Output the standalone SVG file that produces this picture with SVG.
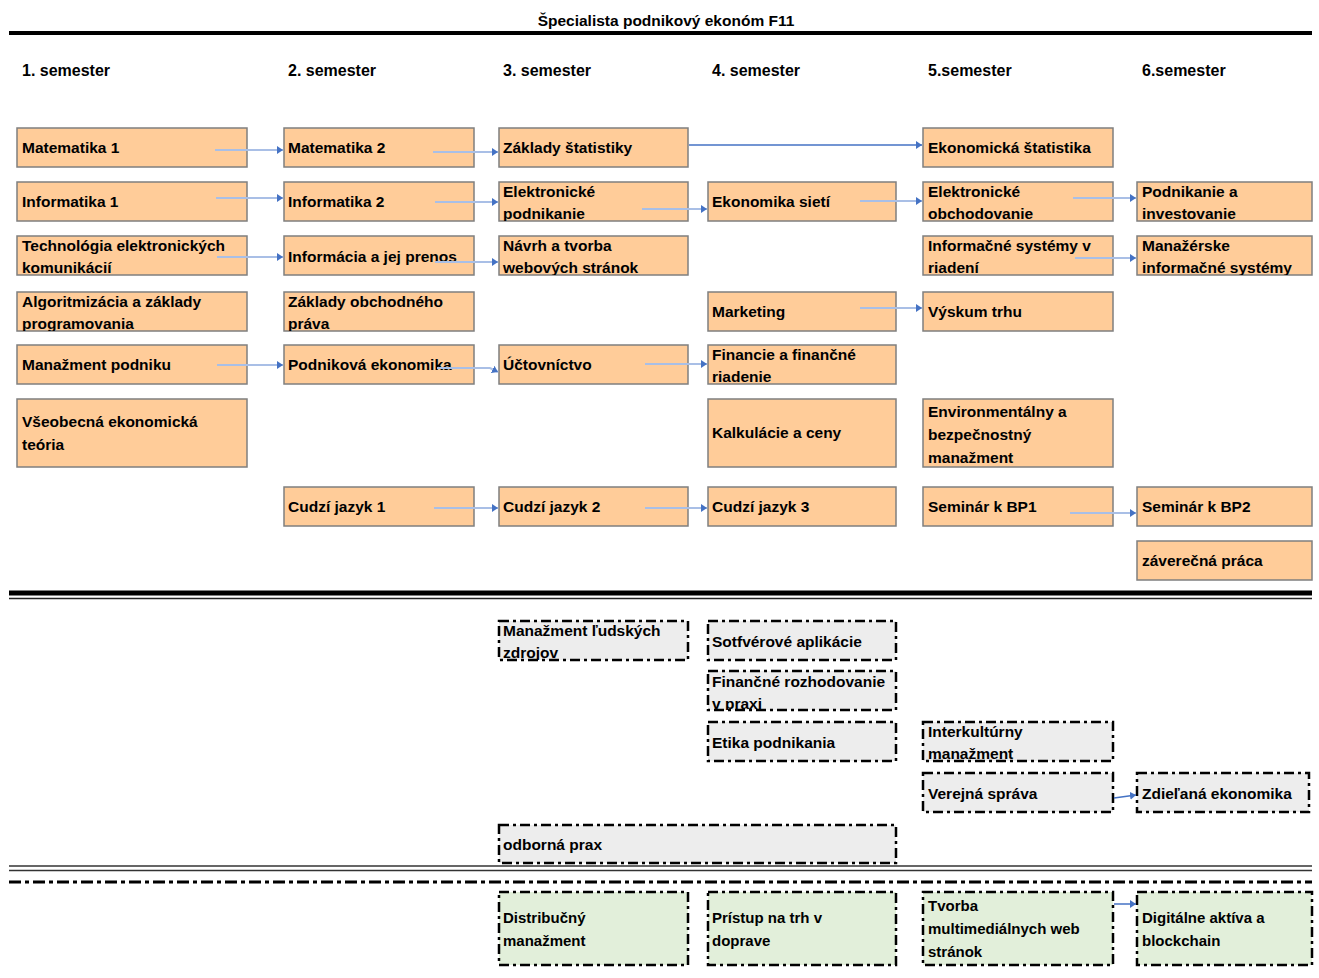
<svg xmlns="http://www.w3.org/2000/svg" width="1319" height="978" viewBox="0 0 1319 978">
<style>
text{font-family:"Liberation Sans",Arial,sans-serif;font-size:15.5px;font-weight:bold;fill:#000}
.title{font-size:15.5px}
.sem{font-size:16px}
.n>rect{fill:#FFCC99;stroke:#7F7F7F;stroke-width:1.5}
.d>rect{fill:#EDEDED;stroke:#000;stroke-width:2.5;stroke-dasharray:10 4 3 4}
.g>rect{fill:#E2EFDA;stroke:#000;stroke-width:2.5;stroke-dasharray:10 4 3 4}
.g text{font-size:15px}
.c line,.c polyline{stroke:#A9BFE6;stroke-width:2;fill:none}
.c .s{stroke:#4472C4;stroke-width:1.5}
</style>
<defs>
<marker id="ah" viewBox="0 0 6 8" refX="6" refY="4" markerWidth="6" markerHeight="8" markerUnits="userSpaceOnUse" orient="auto"><path d="M0,0 L6,4 L0,8 z" fill="#4472C4"/></marker>
</defs>
<rect width="1319" height="978" fill="#fff"/>
<text class="title" x="666" y="26" text-anchor="middle">Špecialista podnikový ekonóm F11</text>
<line x1="9" y1="33" x2="1312" y2="33" stroke="#000" stroke-width="4"/>
<g id="semesters">
<text class="sem" x="22" y="76">1. semester</text>
<text class="sem" x="288" y="76">2. semester</text>
<text class="sem" x="503" y="76">3. semester</text>
<text class="sem" x="712" y="76">4. semester</text>
<text class="sem" x="928" y="76">5.semester</text>
<text class="sem" x="1142" y="76">6.semester</text>
</g>
<g id="separators">
<line x1="9" y1="593" x2="1312" y2="593" stroke="#000" stroke-width="5"/>
<line x1="9" y1="598.5" x2="1312" y2="598.5" stroke="#222" stroke-width="1.5"/>
<line x1="9" y1="866" x2="1312" y2="866" stroke="#333" stroke-width="1.5"/>
<line x1="9" y1="870.5" x2="1312" y2="870.5" stroke="#333" stroke-width="1.5"/>
<line x1="9" y1="882" x2="1312" y2="882" stroke="#000" stroke-width="3" stroke-dasharray="12 4 4 4"/>
</g>

<!-- column 1 -->
<g id="mat1" class="n"><rect x="17" y="128" width="230" height="39"/><svg x="17" y="128" width="230" height="39"><text x="5" y="25">Matematika 1</text></svg></g>
<g id="inf1" class="n"><rect x="17" y="182" width="230" height="39"/><svg x="17" y="182" width="230" height="39"><text x="5" y="25">Informatika 1</text></svg></g>
<g id="tech" class="n"><rect x="17" y="236" width="230" height="39"/><svg x="17" y="236" width="230" height="39"><text x="5" y="15">Technológia elektronických</text><text x="5" y="37">komunikácií</text></svg></g>
<g id="algo" class="n"><rect x="17" y="292" width="230" height="39"/><svg x="17" y="292" width="230" height="39"><text x="5" y="15">Algoritmizácia a základy</text><text x="5" y="37">programovania</text></svg></g>
<g id="manpod" class="n"><rect x="17" y="345" width="230" height="39"/><svg x="17" y="345" width="230" height="39"><text x="5" y="25">Manažment podniku</text></svg></g>
<g id="vseob" class="n"><rect x="17" y="399" width="230" height="68"/><svg x="17" y="399" width="230" height="68"><text x="5" y="28">Všeobecná ekonomická</text><text x="5" y="51">teória</text></svg></g>

<!-- column 2 -->
<g id="mat2" class="n"><rect x="284" y="128" width="190" height="39"/><svg x="284" y="128" width="190" height="39"><text x="4" y="25">Matematika 2</text></svg></g>
<g id="inf2" class="n"><rect x="284" y="182" width="190" height="39"/><svg x="284" y="182" width="190" height="39"><text x="4" y="25">Informatika 2</text></svg></g>
<g id="infprenos" class="n"><rect x="284" y="236" width="190" height="39"/><svg x="284" y="236" width="190" height="39"><text x="4" y="26">Informácia a jej prenos</text></svg></g>
<g id="obchpravo" class="n"><rect x="284" y="292" width="190" height="39"/><svg x="284" y="292" width="190" height="39"><text x="4" y="15">Základy obchodného</text><text x="4" y="37">práva</text></svg></g>
<g id="podnekon" class="n"><rect x="284" y="345" width="190" height="39"/><svg x="284" y="345" width="190" height="39"><text x="4" y="25">Podniková ekonomika</text></svg></g>
<g id="cj1" class="n"><rect x="284" y="487" width="190" height="39"/><svg x="284" y="487" width="190" height="39"><text x="4" y="25">Cudzí jazyk 1</text></svg></g>

<!-- column 3 -->
<g id="zaklstat" class="n"><rect x="499" y="128" width="189" height="39"/><svg x="499" y="128" width="189" height="39"><text x="4" y="25">Základy štatistiky</text></svg></g>
<g id="elpodn" class="n"><rect x="499" y="182" width="189" height="39"/><svg x="499" y="182" width="189" height="39"><text x="4" y="15">Elektronické</text><text x="4" y="37">podnikanie</text></svg></g>
<g id="navrh" class="n"><rect x="499" y="236" width="189" height="39"/><svg x="499" y="236" width="189" height="39"><text x="4" y="15">Návrh a tvorba</text><text x="4" y="37">webových stránok</text></svg></g>
<g id="uct" class="n"><rect x="499" y="345" width="189" height="39"/><svg x="499" y="345" width="189" height="39"><text x="4" y="25">Účtovníctvo</text></svg></g>
<g id="cj2" class="n"><rect x="499" y="487" width="189" height="39"/><svg x="499" y="487" width="189" height="39"><text x="4" y="25">Cudzí jazyk 2</text></svg></g>

<!-- column 4 -->
<g id="ekonsieti" class="n"><rect x="708" y="182" width="188" height="39"/><svg x="708" y="182" width="188" height="39"><text x="4" y="25">Ekonomika sietí</text></svg></g>
<g id="marketing" class="n"><rect x="708" y="292" width="188" height="39"/><svg x="708" y="292" width="188" height="39"><text x="4" y="25">Marketing</text></svg></g>
<g id="financie" class="n"><rect x="708" y="345" width="188" height="39"/><svg x="708" y="345" width="188" height="39"><text x="4" y="15">Financie a finančné</text><text x="4" y="37">riadenie</text></svg></g>
<g id="kalk" class="n"><rect x="708" y="399" width="188" height="68"/><svg x="708" y="399" width="188" height="68"><text x="4" y="39">Kalkulácie a ceny</text></svg></g>
<g id="cj3" class="n"><rect x="708" y="487" width="188" height="39"/><svg x="708" y="487" width="188" height="39"><text x="4" y="25">Cudzí jazyk 3</text></svg></g>

<!-- column 5 -->
<g id="ekonstat" class="n"><rect x="923" y="128" width="190" height="39"/><svg x="923" y="128" width="190" height="39"><text x="5" y="25">Ekonomická štatistika</text></svg></g>
<g id="elobch" class="n"><rect x="923" y="182" width="190" height="39"/><svg x="923" y="182" width="190" height="39"><text x="5" y="15">Elektronické</text><text x="5" y="37">obchodovanie</text></svg></g>
<g id="isriad" class="n"><rect x="923" y="236" width="190" height="39"/><svg x="923" y="236" width="190" height="39"><text x="5" y="15">Informačné systémy v</text><text x="5" y="37">riadení</text></svg></g>
<g id="vyskum" class="n"><rect x="923" y="292" width="190" height="39"/><svg x="923" y="292" width="190" height="39"><text x="5" y="25">Výskum trhu</text></svg></g>
<g id="envir" class="n"><rect x="923" y="399" width="190" height="68"/><svg x="923" y="399" width="190" height="68"><text x="5" y="18">Environmentálny a</text><text x="5" y="41">bezpečnostný</text><text x="5" y="64">manažment</text></svg></g>
<g id="bp1" class="n"><rect x="923" y="487" width="190" height="39"/><svg x="923" y="487" width="190" height="39"><text x="5" y="25">Seminár k BP1</text></svg></g>

<!-- column 6 -->
<g id="podninv" class="n"><rect x="1137" y="182" width="175" height="39"/><svg x="1137" y="182" width="175" height="39"><text x="5" y="15">Podnikanie a</text><text x="5" y="37">investovanie</text></svg></g>
<g id="manis" class="n"><rect x="1137" y="236" width="175" height="39"/><svg x="1137" y="236" width="175" height="39"><text x="5" y="15">Manažérske</text><text x="5" y="37">informačné systémy</text></svg></g>
<g id="bp2" class="n"><rect x="1137" y="487" width="175" height="39"/><svg x="1137" y="487" width="175" height="39"><text x="5" y="25">Seminár k BP2</text></svg></g>
<g id="zavprac" class="n"><rect x="1137" y="541" width="175" height="39"/><svg x="1137" y="541" width="175" height="39"><text x="5" y="25">záverečná práca</text></svg></g>

<!-- electives (gray dashed) -->
<g id="mlz" class="d"><rect x="499" y="621" width="189" height="39"/><svg x="499" y="621" width="189" height="39"><text x="4" y="15">Manažment ľudských</text><text x="4" y="37">zdrojov</text></svg></g>
<g id="softapl" class="d"><rect x="708" y="621" width="188" height="39"/><svg x="708" y="621" width="188" height="39"><text x="4" y="26">Sotfvérové aplikácie</text></svg></g>
<g id="finroz" class="d"><rect x="708" y="671" width="188" height="39"/><svg x="708" y="671" width="188" height="39"><text x="4" y="16">Finančné rozhodovanie</text><text x="4" y="38">v praxi</text></svg></g>
<g id="etika" class="d"><rect x="708" y="722" width="188" height="39"/><svg x="708" y="722" width="188" height="39"><text x="4" y="26">Etika podnikania</text></svg></g>
<g id="interk" class="d"><rect x="923" y="722" width="190" height="39"/><svg x="923" y="722" width="190" height="39"><text x="5" y="15">Interkultúrny</text><text x="5" y="37">manažment</text></svg></g>
<g id="verspr" class="d"><rect x="923" y="773" width="190" height="39"/><svg x="923" y="773" width="190" height="39"><text x="5" y="26">Verejná správa</text></svg></g>
<g id="zdiel" class="d"><rect x="1137" y="773" width="172" height="39"/><svg x="1137" y="773" width="172" height="39"><text x="5" y="26">Zdieľaná ekonomika</text></svg></g>
<g id="odbprax" class="d"><rect x="499" y="825" width="397" height="38"/><svg x="499" y="825" width="397" height="38"><text x="4" y="25">odborná prax</text></svg></g>

<!-- green electives -->
<g id="distr" class="g"><rect x="499" y="892" width="189" height="73"/><svg x="499" y="892" width="189" height="73"><text x="4" y="31">Distribučný</text><text x="4" y="54">manažment</text></svg></g>
<g id="pristup" class="g"><rect x="708" y="892" width="188" height="73"/><svg x="708" y="892" width="188" height="73"><text x="4" y="31">Prístup na trh v</text><text x="4" y="54">doprave</text></svg></g>
<g id="tvorba" class="g"><rect x="923" y="892" width="190" height="73"/><svg x="923" y="892" width="190" height="73"><text x="5" y="19">Tvorba</text><text x="5" y="42">multimediálnych web</text><text x="5" y="65">stránok</text></svg></g>
<g id="digit" class="g"><rect x="1137" y="892" width="175" height="73"/><svg x="1137" y="892" width="175" height="73"><text x="5" y="31">Digitálne aktíva a</text><text x="5" y="54">blockchain</text></svg></g>

<g id="connectors" class="c">
<line x1="215" y1="150" x2="283" y2="150" marker-end="url(#ah)"/>
<line x1="433" y1="152" x2="498" y2="152" marker-end="url(#ah)"/>
<line class="s" x1="689" y1="145" x2="922" y2="145" marker-end="url(#ah)"/>
<line x1="216" y1="198" x2="283" y2="198" marker-end="url(#ah)"/>
<line x1="435" y1="202" x2="498" y2="202" marker-end="url(#ah)"/>
<line x1="642" y1="209" x2="707" y2="209" marker-end="url(#ah)"/>
<line x1="860" y1="201" x2="922" y2="201" marker-end="url(#ah)"/>
<line x1="1073" y1="198" x2="1136" y2="198" marker-end="url(#ah)"/>
<line x1="217" y1="257" x2="283" y2="257" marker-end="url(#ah)"/>
<line x1="435" y1="262" x2="498" y2="262" marker-end="url(#ah)"/>
<line x1="1075" y1="258" x2="1136" y2="258" marker-end="url(#ah)"/>
<line x1="860" y1="308" x2="922" y2="308" marker-end="url(#ah)"/>
<line x1="217" y1="365" x2="283" y2="365" marker-end="url(#ah)"/>
<polyline points="437,368 490,368 498,372" marker-end="url(#ah)"/>
<line x1="645" y1="364" x2="707" y2="364" marker-end="url(#ah)"/>
<line x1="434" y1="508" x2="498" y2="508" marker-end="url(#ah)"/>
<line x1="645" y1="508" x2="707" y2="508" marker-end="url(#ah)"/>
<line x1="1070" y1="513" x2="1136" y2="513" marker-end="url(#ah)"/>
<line class="s" x1="1114" y1="798" x2="1136" y2="795" marker-end="url(#ah)"/>
<line class="s" x1="1114" y1="904" x2="1136" y2="904" marker-end="url(#ah)"/>
</g>
</svg>
